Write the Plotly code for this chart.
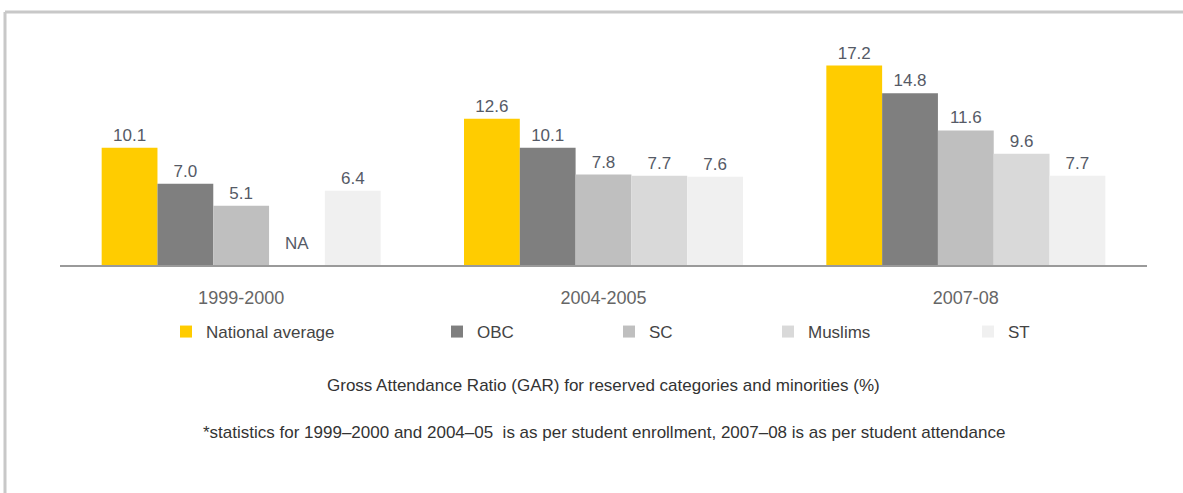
import plotly.graph_objects as go

# ---- data ----
periods = ["1999-2000", "2004-2005", "2007-08"]
series_names = ["National average", "OBC", "SC", "Muslims", "ST"]
national_average = [10.1, 12.6, 17.2]
obc = [7.0, 10.1, 14.8]
sc = [5.1, 7.8, 11.6]
muslims = [None, 7.7, 9.6]   # NA for 1999-2000
st = [6.4, 7.6, 7.7]
colors = ["#FFCC00", "#7F7F7F", "#BFBFBF", "#D9D9D9", "#F0F0F0"]
title_text = "Gross Attendance Ratio (GAR) for reserved categories and minorities (%)"
note_text = "*statistics for 1999\u20132000 and 2004\u201305  is as per student enrollment, 2007\u201308 is as per student attendance"

W, H = 1183, 493
ML, MR, MT, MB = 60, 36, 40, 228
plot_w = W - ML - MR
plot_h = H - MT - MB
BARGAP = 0.23
YMAX = 19.4

FONT = "Liberation Sans, Arial, sans-serif"

def px_x(px):
    return (px - ML) / plot_w

def px_y(py):
    return (H - MB - py) / plot_h

all_series = [national_average, obc, sc, muslims, st]
legend_px = [188, 459, 631, 790, 990]

fig = go.Figure()
for i, (name, vals, col) in enumerate(zip(series_names, all_series, colors)):
    yv = [v if v is not None else 0 for v in vals]
    txt = [f"{v:.1f}" if v is not None else "" for v in vals]
    lg = "legend" if i == 0 else f"legend{i+1}"
    fig.add_trace(go.Bar(
        x=periods, y=yv, name=name, marker=dict(color=col, line=dict(width=0)),
        text=txt, textposition="outside", cliponaxis=False,
        textfont=dict(family=FONT, size=17, color="#555a66"),
        legend=lg,
    ))

# NA labels for missing values
n = len(series_names)
for si, vals in enumerate(all_series):
    for ci, v in enumerate(vals):
        if v is None:
            fig.add_annotation(
                x=ci + (si - (n - 1) / 2) * (1 - BARGAP) / n, y=0, xref="x", yref="y",
                text="NA", showarrow=False, yanchor="bottom", yshift=10,
                font=dict(family=FONT, size=17, color="#555a66"))

legend_common = dict(orientation="h", xanchor="left", yanchor="middle",
                     y=px_y(332), bgcolor="rgba(0,0,0,0)",
                     font=dict(family=FONT, size=17, color="#444"))
layout_legends = {}
for i, lx in enumerate(legend_px):
    key = "legend" if i == 0 else f"legend{i+1}"
    layout_legends[key] = dict(x=px_x(lx - 22), **legend_common)

fig.update_layout(
    width=W, height=H,
    margin=dict(l=ML, r=MR, t=MT, b=MB, pad=0),
    paper_bgcolor="white", plot_bgcolor="white",
    barmode="group", bargap=BARGAP, bargroupgap=0,
    showlegend=True,
    xaxis=dict(type="category", showline=True, linecolor="#9a9a9a", linewidth=2, ticks="",
               tickfont=dict(family=FONT, size=18, color="#666"),
               showgrid=False, zeroline=False, ticklabelstandoff=15),
    yaxis=dict(range=[0, YMAX], visible=False, showgrid=False, zeroline=False),
    **layout_legends,
)

# frame lines
fig.add_shape(type="line", xref="paper", yref="paper",
              x0=px_x(5), x1=px_x(W + 5), y0=px_y(12), y1=px_y(12),
              line=dict(color="#c8c8c8", width=3))
fig.add_shape(type="line", xref="paper", yref="paper",
              x0=px_x(5), x1=px_x(5), y0=px_y(12), y1=px_y(H + 5),
              line=dict(color="#c8c8c8", width=3))

fig.add_annotation(xref="paper", yref="paper", x=0.5, y=px_y(385), text=title_text,
                   showarrow=False, yanchor="middle",
                   font=dict(family=FONT, size=17, color="#333"))
fig.add_annotation(xref="paper", yref="paper", x=0.5, y=px_y(432), text=note_text,
                   showarrow=False, yanchor="middle",
                   font=dict(family=FONT, size=17, color="#333"))

fig.write_html("out.html", config={"displayModeBar": False},
               post_script="document.body.style.margin='0';")
